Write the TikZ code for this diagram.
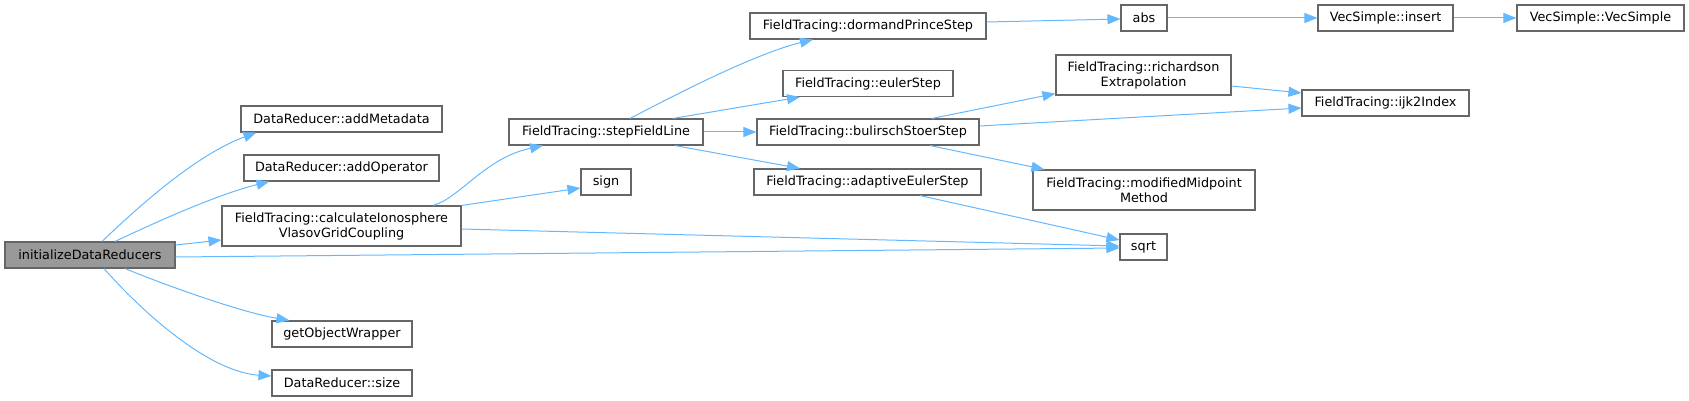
\documentclass[tikz,border=0pt]{standalone}
\usepackage{fontspec}
\setmainfont{DejaVu Sans}
\usetikzlibrary{arrows.meta}
\definecolor{edgeblue}{HTML}{63B8FF}
\definecolor{bordergrey}{HTML}{666666}
\definecolor{rootgrey}{HTML}{999999}
\begin{document}
\begin{tikzpicture}[x=1pt,y=-1pt,
  box/.style={draw=bordergrey, line width=1.1pt, fill=white, inner sep=0pt,
    font=\fontsize{12.8}{15}\selectfont, align=center, text=black, minimum height=26pt},
  rootbox/.style={box, fill=rootgrey},
  edge/.style={draw=edgeblue, line width=1pt, -{Triangle[length=13pt,width=10pt]}}]
\useasboundingbox (0,0) rectangle (1689,401);
% nodes
\node[rootbox, minimum width=170pt] (init) at (90,255) {initializeDataReducers};
\node[box, minimum width=201pt] (addMetadata) at (341.5,119) {DataReducer::addMetadata};
\node[box, minimum width=195pt] (addOperator) at (341.5,168) {DataReducer::addOperator};
\node[box, minimum width=239pt, minimum height=40pt] (calc) at (341.5,226) {FieldTracing::calculateIonosphere\\VlasovGridCoupling};
\node[box, minimum width=140pt] (getObj) at (342,334) {getObjectWrapper};
\node[box, minimum width=140pt] (size) at (342,383) {DataReducer::size};
\node[box, minimum width=194pt] (step) at (606,132) {FieldTracing::stepFieldLine};
\node[box, minimum width=50pt] (sign) at (606,182) {sign};
\node[box, minimum width=236pt] (dormand) at (868,26) {FieldTracing::dormandPrinceStep};
\node[box, minimum width=170pt] (euler) at (868,83.5) {FieldTracing::eulerStep};
\node[box, minimum width=222pt] (bulirsch) at (868,132) {FieldTracing::bulirschStoerStep};
\node[box, minimum width=227pt] (adaptive) at (867.5,182) {FieldTracing::adaptiveEulerStep};
\node[box, minimum width=46pt] (abs) at (1144,18) {abs};
\node[box, minimum width=175pt, minimum height=40pt] (richardson) at (1143.5,75) {FieldTracing::richardson\\Extrapolation};
\node[box, minimum width=222pt, minimum height=40pt] (modified) at (1144,190) {FieldTracing::modifiedMidpoint\\Method};
\node[box, minimum width=47pt] (sqrt) at (1143.5,247) {sqrt};
\node[box, minimum width=135pt] (insert) at (1385.5,18) {VecSimple::insert};
\node[box, minimum width=167pt] (ijk) at (1385.5,103) {FieldTracing::ijk2Index};
\node[box, minimum width=167pt] (vec) at (1600.5,18) {VecSimple::VecSimple};
% edges
\draw[edge] ([xshift=12pt]init.north) .. controls (135,210) and (195,155) .. ([xshift=16pt]addMetadata.south west);
\draw[edge] ([xshift=25pt]init.north) .. controls (150,225) and (215,195) .. ([xshift=26pt]addOperator.south west);
\draw[edge] ([yshift=10pt]init.east) -- ([yshift=-14pt]calc.west);
\draw[edge] ([yshift=-2pt]init.east) -- ([yshift=-1pt]sqrt.west);
\draw[edge] ([xshift=35pt]init.south) .. controls (165,285) and (240,312) .. ([xshift=18pt]getObj.north west);
\draw[edge] ([xshift=14pt]init.south) .. controls (145,315) and (210,372) .. ([yshift=7pt]size.west);
\draw[edge] ([xshift=91.5pt]calc.north) .. controls (460,198) and (485,158) .. ([xshift=-63pt]step.south);
\draw[edge] (calc.north east) -- ([yshift=-6pt]sign.west);
\draw[edge] ([yshift=-3pt]calc.east) -- ([yshift=1pt]sqrt.west);
\draw[edge] ([xshift=24pt]step.north) .. controls (660,103) and (750,55) .. ([xshift=-55pt]dormand.south);
\draw[edge] ([xshift=67pt]step.north) -- ([xshift=-68pt]euler.south);
\draw[edge] (step.east) -- (bulirsch.west);
\draw[edge] ([xshift=69pt]step.south) -- ([xshift=-67.5pt]adaptive.north);
\draw[edge] ([yshift=4pt]dormand.east) -- ([yshift=-1pt]abs.west);
\draw[edge] (abs.east) -- (insert.west);
\draw[edge] (insert.east) -- (vec.west);
\draw[edge] ([xshift=64pt]bulirsch.north) -- ([yshift=2pt]richardson.south west);
\draw[edge] ([yshift=6pt]bulirsch.east) -- ([yshift=-5pt]ijk.west);
\draw[edge] ([xshift=62pt]bulirsch.south) -- ([xshift=12pt]modified.north west);
\draw[edge] ([yshift=-11pt]richardson.east) -- ([yshift=10pt]ijk.west);
\draw[edge] ([xshift=52.5pt]adaptive.south) -- ([yshift=7pt]sqrt.west);
\end{tikzpicture}
\end{document}
